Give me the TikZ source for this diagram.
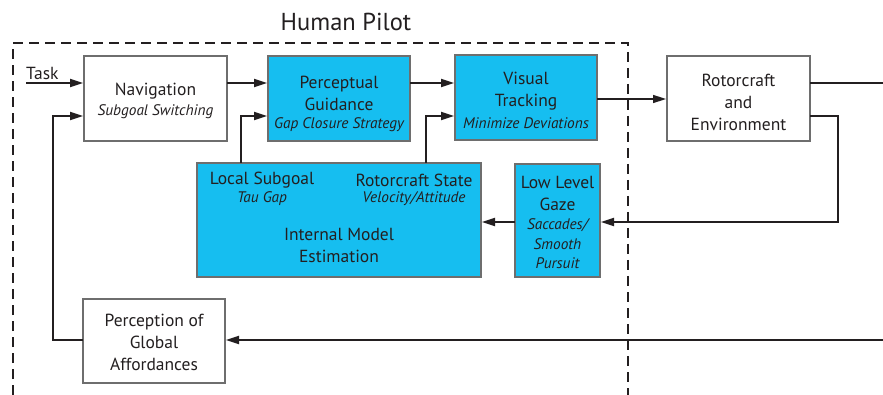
\documentclass[tikz,border=0pt]{standalone}
\usepackage{fontspec}
\setmainfont{PT Sans}
\usetikzlibrary{arrows.meta}
\definecolor{cyanbox}{RGB}{22,190,240}
\definecolor{boxline}{RGB}{110,110,110}
\definecolor{ink}{RGB}{35,31,32}
\begin{document}
\begin{tikzpicture}[x=1pt,y=-1pt,
  font=\fontsize{17.5}{22}\selectfont, text=ink,
  blk/.style={draw=boxline, line width=1.4pt},
  wbox/.style={blk, fill=white},
  cbox/.style={blk, fill=cyanbox},
  lbl/.style={inner sep=0pt, align=center},
  sub/.style={lbl, font=\fontsize{15.3}{19}\selectfont\itshape},
  conn/.style={draw=ink, line width=1.8pt},
  arr/.style={conn, -{Triangle[length=13pt,width=8pt]}}]
\useasboundingbox (0,0) rectangle (883,395);
% dashed pilot boundary
\draw[ink, line width=1.3pt, dash pattern=on 10pt off 6pt] (13,395) -- (13,43) -- (628,43) -- (628,395);
\node[lbl, font=\fontsize{24.5}{28}\selectfont] (title) at (346,22) {Human Pilot};
% boxes
\path[wbox] (84,56) rectangle (227,141);
\node[lbl] (nav) at (155.5,91) {Navigation};
\node[sub] (navs) at (155.5,112) {Subgoal Switching};

\path[cbox] (268,56) rectangle (410,141);
\node[lbl] (pg) at (339,93) {Perceptual\\Guidance};
\node[sub] (pgs) at (339,125) {Gap Closure Strategy};

\path[cbox] (455,55) rectangle (597,140);
\node[lbl] (vt) at (526,91) {Visual\\Tracking};
\node[sub] (vts) at (526,123) {Minimize Deviations};

\path[wbox] (667,56) rectangle (810,141);
\node[lbl] (re) at (738.5,102) {Rotorcraft\\and\\Environment};

\path[cbox] (197,163) rectangle (481,277);
\node[lbl] (ls) at (262,180) {Local Subgoal};
\node[sub] (lss) at (262,199) {Tau Gap};
\node[lbl] (rs) at (414,180) {Rotorcraft State};
\node[sub] (rss) at (414,199) {Velocity/Attitude};
\node[lbl] (im) at (339,245) {Internal Model\\Estimation};

\path[cbox] (515,164) rectangle (600,277);
\node[lbl] (llg) at (557.5,193) {Low Level\\Gaze};
\node[sub, font=\fontsize{15.3}{19.5}\selectfont\itshape] (llgs) at (557.5,244) {Saccades/\\Smooth\\Pursuit};

\path[wbox] (83,299) rectangle (225,383);
\node[lbl] (pga) at (154,342) {Perception of\\Global\\Affordances};

% coordinates for connectors
\coordinate (taskS) at (26,83);
\node[lbl, anchor=south west] (task) at (26,80) {Task};
\coordinate (navL1) at (83,83);
\coordinate (navL2) at (83,116);
\coordinate (navR) at (227,83);
\coordinate (pgL1) at (267,83);
\coordinate (pgL2) at (267,116);
\coordinate (pgR) at (410,83);
\coordinate (vtL1) at (454,83);
\coordinate (vtL2) at (454,116);
\coordinate (vtR) at (597,99);
\coordinate (reL) at (666,99);
\coordinate (reR1) at (810,83);
\coordinate (reR2) at (810,116);
\coordinate (outR) at (883,83);
\coordinate (fbR) at (838,116);
\coordinate (llgR) at (601,222);
\coordinate (llgL) at (515,222);
\coordinate (imR) at (482,222);
\coordinate (imT1) at (241,163);
\coordinate (imT2) at (426,163);
\coordinate (pgaL) at (83,340);
\coordinate (pgaR) at (226,340);
\coordinate (inR) at (883,340);

\draw[arr] (taskS) -- (navL1);
\draw[arr] (navR) -- (pgL1);
\draw[arr] (pgR) -- (vtL1);
\draw[conn, line width=1.5pt, -{Triangle[length=13pt,width=8pt]}] (vtR) -- (reL);
\draw[conn] (reR1) -- (outR);
\draw[arr] (reR2) -| (fbR) |- (llgR);
\draw[arr] (llgL) -- (imR);
\draw[arr] (imT1) |- (pgL2);
\draw[arr] (imT2) |- (vtL2);
\draw[arr] (pgaL) -| (53,116) -- (navL2);
\draw[arr] (inR) -- (pgaR);
\end{tikzpicture}
\end{document}
